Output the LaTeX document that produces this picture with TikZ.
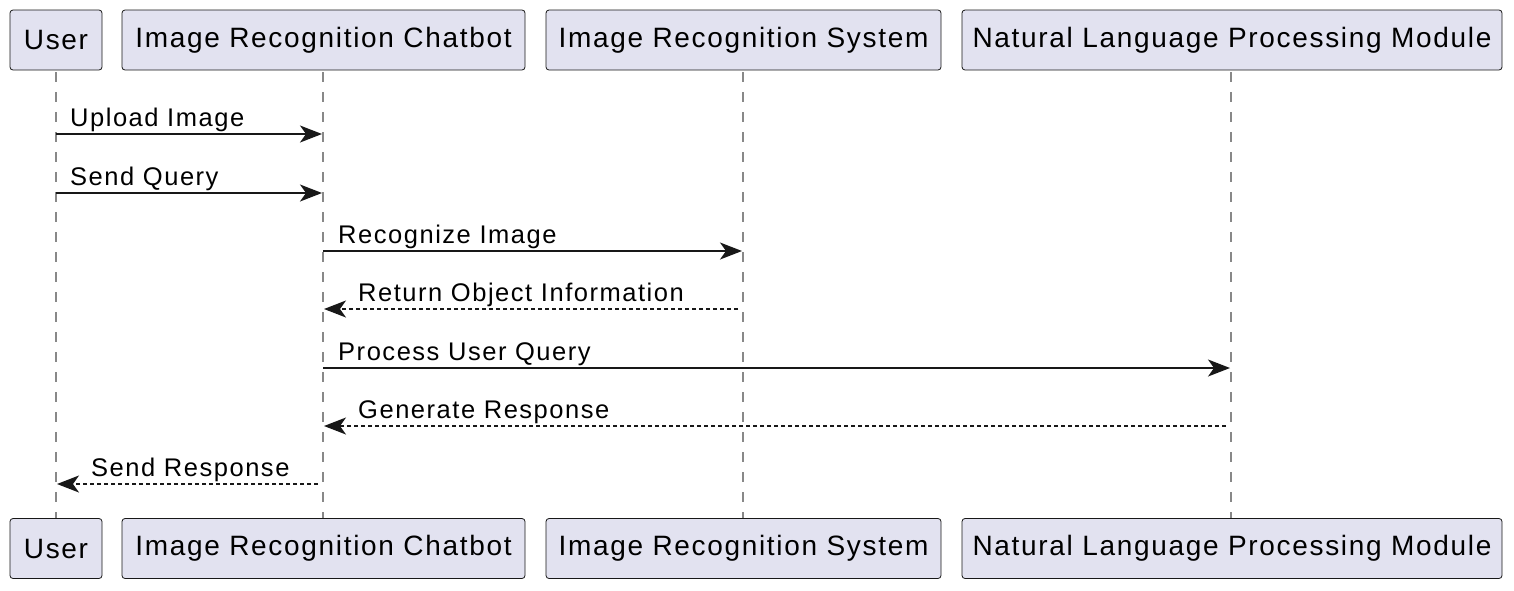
\documentclass[tikz,border=0pt]{standalone}
\usepackage{fontspec}
\setmainfont{Liberation Sans}[LetterSpace=6]
\usetikzlibrary{arrows.meta}
\definecolor{boxfill}{HTML}{E2E2F0}
\definecolor{boxline}{HTML}{181818}
\definecolor{lifegray}{HTML}{888888}
\definecolor{msgcol}{HTML}{181818}
\begin{document}
\begin{tikzpicture}[x=1pt,y=-1pt,
  actor/.style={draw=boxline, fill=boxfill, rounded corners=3pt, line width=0.8pt,
    minimum height=60pt, inner sep=0pt, font=\fontsize{28}{31}\selectfont, text=black},
  lifeline/.style={draw=lifegray, line width=1.8pt, dash pattern=on 10pt off 10pt},
  msg/.style={draw=msgcol, line width=1.5pt, -{Stealth[length=22pt,width=17pt,inset=6pt]}},
  ret/.style={msg, dash pattern=on 4pt off 3pt},
  lbl/.style={font=\fontsize{25.5}{28}\selectfont, inner sep=0pt, text=black}]
\useasboundingbox (0,0) rectangle (1514,590);
% top boxes
\node[actor, minimum width=92pt]  (uT) at (56,40) {User};
\node[actor, minimum width=403pt] (cT) at (323.5,40) {Image Recognition Chatbot};
\node[actor, minimum width=395pt] (sT) at (743.5,40) {Image Recognition System};
\node[actor, minimum width=540pt] (nT) at (1232,40) {Natural Language Processing Module};
% bottom boxes
\node[actor, minimum width=92pt]  (uB) at (56,548.5) {User};
\node[actor, minimum width=403pt] (cB) at (323.5,548.5) {Image Recognition Chatbot};
\node[actor, minimum width=395pt] (sB) at (743.5,548.5) {Image Recognition System};
\node[actor, minimum width=540pt] (nB) at (1232,548.5) {Natural Language Processing Module};
% lifelines
\coordinate (uL1) at (56,72);  \coordinate (uL2) at (56,518);
\coordinate (cL1) at (323,72); \coordinate (cL2) at (323,518);
\coordinate (sL1) at (743,72); \coordinate (sL2) at (743,518);
\coordinate (nL1) at (1231,72); \coordinate (nL2) at (1231,518);
\draw[lifeline] (uL1) -- (uL2);
\draw[lifeline] (cL1) -- (cL2);
\draw[lifeline] (sL1) -- (sL2);
\draw[lifeline] (nL1) -- (nL2);
% message endpoints
\coordinate (m1a) at (56,134);  \coordinate (m1b) at (322,134);
\coordinate (m2a) at (56,193);  \coordinate (m2b) at (322,193);
\coordinate (m3a) at (323,251); \coordinate (m3b) at (742,251);
\coordinate (m4a) at (738,309); \coordinate (m4b) at (324,309);
\coordinate (m5a) at (323,368); \coordinate (m5b) at (1230,368);
\coordinate (m6a) at (1226,426); \coordinate (m6b) at (324,426);
\coordinate (m7a) at (318,484); \coordinate (m7b) at (57,484);
\draw[msg] (m1a) -- (m1b);
\draw[msg] (m2a) -- (m2b);
\draw[msg] (m3a) -- (m3b);
\draw[ret] (m4a) -- (m4b);
\draw[msg] (m5a) -- (m5b);
\draw[ret] (m6a) -- (m6b);
\draw[ret] (m7a) -- (m7b);
% labels
\node[lbl, anchor=base west] (l1) at (70,126) {Upload Image};
\node[lbl, anchor=base west] (l2) at (70,185) {Send Query};
\node[lbl, anchor=base west] (l3) at (338,243) {Recognize Image};
\node[lbl, anchor=base west] (l4) at (358,301) {Return Object Information};
\node[lbl, anchor=base west] (l5) at (338,360) {Process User Query};
\node[lbl, anchor=base west] (l6) at (358,418) {Generate Response};
\node[lbl, anchor=base west] (l7) at (91,476) {Send Response};
\end{tikzpicture}
\end{document}
